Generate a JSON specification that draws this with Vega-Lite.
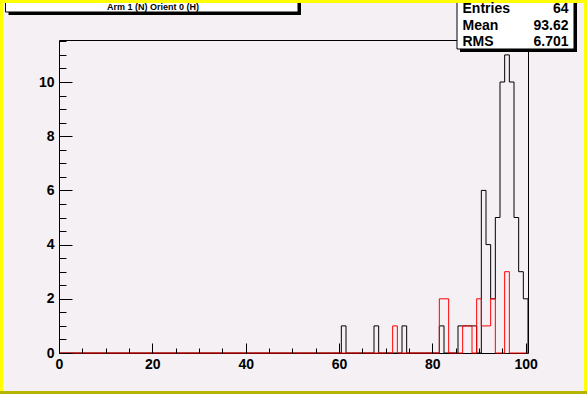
{
  "$schema": "https://vega.github.io/schema/vega-lite/v6.json",
  "width": 469,
  "height": 313,
  "autosize": "none",
  "padding": {"left": 59, "top": 40, "right": 59, "bottom": 41},
  "background": "#f4f0f4",
  "config": {
    "view": {"stroke": "#000000", "strokeWidth": 1},
    "text": {"font": "Liberation Sans"}
  },
  "title": {
    "text": "Arm 1 (N) Orient 0 (H)",
    "anchor": "start",
    "frame": "group",
    "offset": -22,
    "dx": 48,
    "fontSize": 9,
    "fontWeight": "bold",
    "font": "Liberation Sans",
    "color": "#000000",
    "baseline": "alphabetic"
  },
  "datasets": {
    "black": [
      {"edge": 0, "count": 0},
      {"edge": 60.5, "count": 1},
      {"edge": 61.5, "count": 0},
      {"edge": 67.5, "count": 1},
      {"edge": 68.5, "count": 0},
      {"edge": 73.5, "count": 1},
      {"edge": 74.5, "count": 0},
      {"edge": 81.5, "count": 1},
      {"edge": 82.5, "count": 0},
      {"edge": 85.5, "count": 1},
      {"edge": 86.5, "count": 1},
      {"edge": 87.5, "count": 1},
      {"edge": 88.5, "count": 1},
      {"edge": 89.5, "count": 0},
      {"edge": 90.5, "count": 6},
      {"edge": 91.5, "count": 4},
      {"edge": 92.5, "count": 2},
      {"edge": 93.5, "count": 5},
      {"edge": 94.5, "count": 10},
      {"edge": 95.5, "count": 11},
      {"edge": 96.5, "count": 10},
      {"edge": 97.5, "count": 5},
      {"edge": 98.5, "count": 3},
      {"edge": 99.5, "count": 2},
      {"edge": 100.5, "count": 0}
    ],
    "red": [
      {"edge": 0, "count": 0},
      {"edge": 71.5, "count": 1},
      {"edge": 72.5, "count": 0},
      {"edge": 81.5, "count": 2},
      {"edge": 82.5, "count": 2},
      {"edge": 83.5, "count": 0},
      {"edge": 86.5, "count": 1},
      {"edge": 87.5, "count": 1},
      {"edge": 88.5, "count": 0},
      {"edge": 89.5, "count": 2},
      {"edge": 90.5, "count": 1},
      {"edge": 91.5, "count": 1},
      {"edge": 92.5, "count": 2},
      {"edge": 93.5, "count": 0},
      {"edge": 95.5, "count": 3},
      {"edge": 96.5, "count": 0},
      {"edge": 100.5, "count": 0}
    ],
    "stats": [
      {"stat": "Entries", "value": "64"},
      {"stat": "Mean", "value": "93.62"},
      {"stat": "RMS", "value": "6.701"}
    ]
  },
  "resolve": {"axis": {"x": "independent", "y": "independent"}},
  "layer": [
    {
      "data": {"values": [{}]},
      "mark": {"type": "rect", "fill": "#000000", "strokeWidth": 0},
      "encoding": {
        "x": {"datum": -10.821, "axis": null},
        "x2": {"datum": 51.857},
        "y": {"datum": 12.989, "axis": null},
        "y2": {"datum": 12.472}
      }
    },
    {
      "data": {"values": [{}]},
      "mark": {"type": "rect", "fill": "#ffffff", "stroke": "#000000", "strokeWidth": 1},
      "encoding": {
        "x": {"datum": -11.464, "axis": null},
        "x2": {"datum": 51.214},
        "y": {"datum": 13.1, "axis": null},
        "y2": {"datum": 12.583}
      }
    },
    {
      "data": {"name": "black"},
      "mark": {"type": "line", "interpolate": "step-after", "color": "#000000", "strokeWidth": 1},
      "encoding": {
        "x": {
          "field": "edge",
          "type": "quantitative",
          "scale": {"domain": [0, 100.5], "nice": false, "zero": false},
          "axis": {
            "orient": "bottom",
            "values": [0, 20, 40, 60, 80, 100],
            "format": "d",
            "tickSize": -10,
            "labelPadding": 25,
            "labelBaseline": "alphabetic",
            "labelFlush": false,
            "labelOverlap": false,
            "domain": false,
            "grid": false,
            "title": null,
            "tickColor": "#000000",
            "tickWidth": 1,
            "labelColor": "#000000",
            "labelFont": "Liberation Sans",
            "labelFontSize": 14,
            "labelFontWeight": "bold",
            "zindex": 1
          }
        },
        "y": {
          "field": "count",
          "type": "quantitative",
          "scale": {"domain": [0, 11.55], "nice": false, "zero": false},
          "axis": {
            "orient": "left",
            "values": [0, 2, 4, 6, 8, 10],
            "format": "d",
            "tickSize": -13,
            "labelPadding": 18,
            "labelOverlap": false,
            "labelFlush": false,
            "domain": false,
            "grid": false,
            "title": null,
            "tickColor": "#000000",
            "tickWidth": 1,
            "labelColor": "#000000",
            "labelFont": "Liberation Sans",
            "labelFontSize": 14,
            "labelFontWeight": "bold",
            "zindex": 1
          }
        }
      }
    },
    {
      "data": {"name": "red"},
      "mark": {"type": "line", "interpolate": "step-after", "color": "#ff0000", "strokeWidth": 1},
      "encoding": {
        "x": {
          "field": "edge",
          "type": "quantitative",
          "axis": {
            "orient": "bottom",
            "values": [5, 10, 15, 25, 30, 35, 45, 50, 55, 65, 70, 75, 85, 90, 95],
            "tickSize": -5,
            "labels": false,
            "domain": false,
            "grid": false,
            "title": null,
            "tickColor": "#000000",
            "tickWidth": 1,
            "zindex": 1
          }
        },
        "y": {
          "field": "count",
          "type": "quantitative",
          "axis": {
            "orient": "left",
            "values": [0.5, 1, 1.5, 2.5, 3, 3.5, 4.5, 5, 5.5, 6.5, 7, 7.5, 8.5, 9, 9.5, 10.5, 11, 11.5],
            "tickSize": -7,
            "labels": false,
            "domain": false,
            "grid": false,
            "title": null,
            "tickColor": "#000000",
            "tickWidth": 1,
            "zindex": 1
          }
        }
      }
    },
    {
      "data": {"values": [{}]},
      "mark": {"type": "rect", "fill": "#000000", "strokeWidth": 0},
      "encoding": {
        "x": {"datum": 85.929, "axis": null},
        "x2": {"datum": 111.0},
        "y": {"datum": 12.989, "axis": null},
        "y2": {"datum": 11.107}
      }
    },
    {
      "data": {"values": [{}]},
      "mark": {"type": "rect", "fill": "#ffffff", "stroke": "#000000", "strokeWidth": 1},
      "encoding": {
        "x": {"datum": 85.286, "axis": null},
        "x2": {"datum": 110.357},
        "y": {"datum": 13.1, "axis": null},
        "y2": {"datum": 11.218}
      }
    },
    {
      "data": {"values": [{}]},
      "mark": {"type": "rect", "fill": "#ffff00", "strokeWidth": 0},
      "encoding": {
        "x": {"datum": -12.643, "axis": null},
        "x2": {"datum": 113.143},
        "y": {"datum": 13.026, "axis": null},
        "y2": {"datum": 12.915}
      }
    },
    {
      "data": {"values": [{}]},
      "mark": {"type": "rect", "fill": "#ffff00", "strokeWidth": 0},
      "encoding": {
        "x": {"datum": -12.643, "axis": null},
        "x2": {"datum": -12.0},
        "y": {"datum": 13.026, "axis": null},
        "y2": {"datum": -1.513}
      }
    },
    {
      "data": {"values": [{}]},
      "mark": {"type": "rect", "fill": "#ffff00", "strokeWidth": 0},
      "encoding": {
        "x": {"datum": 112.5, "axis": null},
        "x2": {"datum": 113.143},
        "y": {"datum": 13.026, "axis": null},
        "y2": {"datum": -1.513}
      }
    },
    {
      "data": {"values": [{}]},
      "mark": {"type": "rect", "fill": "#b5b500", "strokeWidth": 0},
      "encoding": {
        "x": {"datum": -12.643, "axis": null},
        "x2": {"datum": 113.143},
        "y": {"datum": -1.402, "axis": null},
        "y2": {"datum": -1.513}
      }
    },
    {
      "data": {"name": "stats"},
      "transform": [{"filter": "datum.stat === 'Entries'"}],
      "mark": {"type": "text", "align": "left", "baseline": "alphabetic", "font": "Liberation Sans", "fontSize": 14, "fontWeight": "bold", "color": "#000000"},
      "encoding": {"x": {"datum": 86.464, "axis": null}, "y": {"datum": 12.546, "axis": null}, "text": {"field": "stat"}}
    },
    {
      "data": {"name": "stats"},
      "transform": [{"filter": "datum.stat === 'Entries'"}],
      "mark": {"type": "text", "align": "right", "baseline": "alphabetic", "font": "Liberation Sans", "fontSize": 14, "fontWeight": "bold", "color": "#000000"},
      "encoding": {"x": {"datum": 109.179, "axis": null}, "y": {"datum": 12.546, "axis": null}, "text": {"field": "value"}}
    },
    {
      "data": {"name": "stats"},
      "transform": [{"filter": "datum.stat === 'Mean'"}],
      "mark": {"type": "text", "align": "left", "baseline": "alphabetic", "font": "Liberation Sans", "fontSize": 14, "fontWeight": "bold", "color": "#000000"},
      "encoding": {"x": {"datum": 86.464, "axis": null}, "y": {"datum": 11.937, "axis": null}, "text": {"field": "stat"}}
    },
    {
      "data": {"name": "stats"},
      "transform": [{"filter": "datum.stat === 'Mean'"}],
      "mark": {"type": "text", "align": "right", "baseline": "alphabetic", "font": "Liberation Sans", "fontSize": 14, "fontWeight": "bold", "color": "#000000"},
      "encoding": {"x": {"datum": 109.179, "axis": null}, "y": {"datum": 11.937, "axis": null}, "text": {"field": "value"}}
    },
    {
      "data": {"name": "stats"},
      "transform": [{"filter": "datum.stat === 'RMS'"}],
      "mark": {"type": "text", "align": "left", "baseline": "alphabetic", "font": "Liberation Sans", "fontSize": 14, "fontWeight": "bold", "color": "#000000"},
      "encoding": {"x": {"datum": 86.464, "axis": null}, "y": {"datum": 11.328, "axis": null}, "text": {"field": "stat"}}
    },
    {
      "data": {"name": "stats"},
      "transform": [{"filter": "datum.stat === 'RMS'"}],
      "mark": {"type": "text", "align": "right", "baseline": "alphabetic", "font": "Liberation Sans", "fontSize": 14, "fontWeight": "bold", "color": "#000000"},
      "encoding": {"x": {"datum": 109.179, "axis": null}, "y": {"datum": 11.328, "axis": null}, "text": {"field": "value"}}
    }
  ]
}
